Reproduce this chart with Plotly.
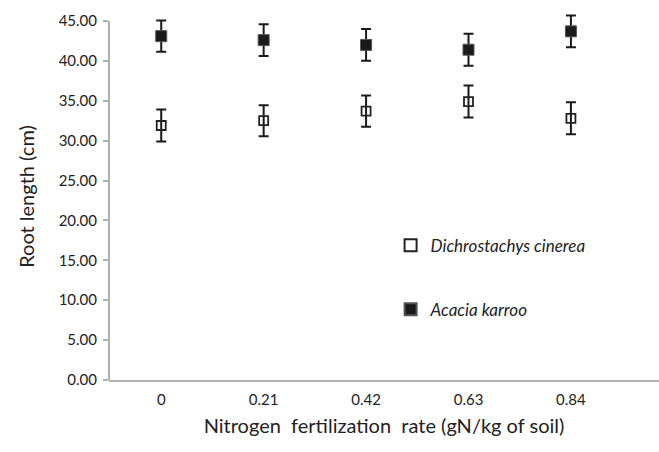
import plotly.graph_objects as go

categories = ["0", "0.21", "0.42", "0.63", "0.84"]
dichro_vals = [31.9, 32.5, 33.7, 34.9, 32.8]
dichro_err = [2.0, 1.95, 1.95, 2.0, 2.0]
acacia_vals = [43.1, 42.6, 42.0, 41.4, 43.7]
acacia_err = [1.95, 2.0, 2.0, 2.0, 2.0]
y_ticks = [0, 5, 10, 15, 20, 25, 30, 35, 40, 45]

FONT = "Lato, 'Open Sans', sans-serif"
AXC = "#b0b0b0"

fig = go.Figure()
fig.add_trace(go.Scatter(
    x=categories, y=dichro_vals, mode="markers", name="Dichrostachys cinerea",
    legendgroup="d", cliponaxis=False,
    marker=dict(symbol="square-open", size=9, color="#222222", line=dict(width=1.8)),
    error_y=dict(type="data", array=dichro_err, color="#1a1a1a", thickness=2, width=5),
))
fig.add_trace(go.Scatter(
    x=categories, y=acacia_vals, mode="markers", name="Acacia karroo",
    legendgroup="a", cliponaxis=False,
    marker=dict(symbol="square", size=11, color="#1a1a1a", line=dict(width=1, color="#555555")),
    error_y=dict(type="data", array=acacia_err, color="#1a1a1a", thickness=2, width=5),
))

# y axis line drawn only from 0 to the top tick
fig.add_shape(type="line", xref="paper", yref="y", x0=0, x1=0, y0=0, y1=y_ticks[-1],
              line=dict(color=AXC, width=2), layer="below")

fig.update_layout(
    width=659, height=452,
    margin=dict(l=109, r=0, t=13, b=72),
    paper_bgcolor="white", plot_bgcolor="white",
    font=dict(family=FONT, size=15, color="#222222"),
    showlegend=True,
    legend=dict(
        x=0.512, y=0.415, xanchor="left", yanchor="top",
        bgcolor="rgba(0,0,0,0)", tracegroupgap=39,
        font=dict(family=FONT, size=17, style="italic", color="#222222"),
        itemsizing="constant", traceorder="grouped",
    ),
    xaxis=dict(
        type="category", range=[-0.51, 4.86],
        showline=True, linecolor=AXC, linewidth=2,
        ticks="", showgrid=False, zeroline=False, ticklabelstandoff=5,
        title=dict(text="Nitrogen&nbsp; fertilization&nbsp; rate (gN/kg of soil)", standoff=12,
                   font=dict(size=20)),
        tickfont=dict(size=15),
    ),
    yaxis=dict(
        range=[0, 46], tickvals=y_ticks,
        ticktext=[f"{v:.2f}" for v in y_ticks],
        showline=False,
        ticks="outside", ticklen=5, tickcolor=AXC, tickwidth=1.5,
        showgrid=False, zeroline=False, ticklabelstandoff=3,
        title=dict(text="Root length (cm)", standoff=18, font=dict(size=20)),
        tickfont=dict(size=15),
    ),
)

fig.write_html("out.html", config={"displayModeBar": False},
               post_script="document.body.style.margin='0';")
